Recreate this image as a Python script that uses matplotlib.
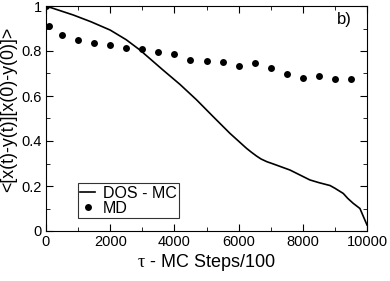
import matplotlib
matplotlib.use("Agg")
import matplotlib.pyplot as plt
from matplotlib.ticker import MultipleLocator

plt.rcParams['font.family'] = ['Liberation Sans', 'DejaVu Sans']
plt.rcParams['mathtext.fontset'] = 'custom'
plt.rcParams['mathtext.rm'] = 'Liberation Serif'
plt.rcParams['mathtext.it'] = 'Liberation Serif'

# DOS - MC curve
mc_x = [0, 850, 1400, 2000, 2500, 2930, 3640, 4170, 4690, 5210, 5730, 6250, 6400, 6560,
        6700, 6880, 7080, 7600, 8220, 8500, 8850, 9000, 9260, 9400, 9570, 9780, 9900, 10000]
mc_y = [1.0, 0.96, 0.93, 0.893, 0.85, 0.804, 0.716, 0.652, 0.583, 0.508, 0.434, 0.367, 0.35, 0.333,
        0.32, 0.308, 0.298, 0.271, 0.227, 0.215, 0.202, 0.19, 0.167, 0.145, 0.123, 0.10, 0.06, 0.027]

# MD points
md_x = [0, 100, 500, 1000, 1500, 2000, 2500, 3000, 3500, 4000, 4500, 5000, 5500,
        6000, 6500, 7000, 7500, 8000, 8500, 9000, 9500]
md_y = [1.0, 0.911, 0.872, 0.850, 0.837, 0.827, 0.813, 0.808, 0.794, 0.785, 0.761,
        0.757, 0.750, 0.733, 0.748, 0.724, 0.696, 0.681, 0.689, 0.674, 0.674]

fig = plt.figure(figsize=(3.9, 2.81), dpi=100)
ax = fig.add_axes([46/390, 1 - 231/281, 321/390, 225/281])

ax.plot(mc_x, mc_y, color='black', lw=1.2, label='DOS - MC')
ax.plot(md_x, md_y, 'o', color='black', ms=5, mec='none', label='MD')

ax.set_xlim(0, 10000)
ax.set_ylim(0, 1)
ax.xaxis.set_major_locator(MultipleLocator(2000))
ax.xaxis.set_minor_locator(MultipleLocator(1000))
ax.yaxis.set_major_locator(MultipleLocator(0.2))
ax.yaxis.set_minor_locator(MultipleLocator(0.1))
ax.set_yticks([0, 0.2, 0.4, 0.6, 0.8, 1.0])
ax.set_yticklabels(['0', '0.2', '0.4', '0.6', '0.8', '1'])
ax.tick_params(which='both', direction='in', top=True, right=True, labelsize=10.5, pad=3)
ax.tick_params(which='major', length=5)
ax.tick_params(which='minor', length=3)

ax.set_xlabel(r'$\mathrm{\tau}$ - MC Steps/100', fontsize=13, labelpad=2)
ax.set_ylabel('<[x(t)-y(t)][x(0)-y(0)]>', fontsize=12.8, labelpad=1)
ax.yaxis.set_label_coords(-0.09, 0.54)

ax.text(9280, 0.938, 'b)', fontsize=12, ha='center', va='center')

leg = ax.legend(loc='lower left', bbox_to_anchor=(0.1, 0.058), fontsize=11.5,
                frameon=True, fancybox=False, edgecolor='black', borderpad=0.15,
                handlelength=0.9, handletextpad=0.5, labelspacing=0.0,
                borderaxespad=0)
leg.get_frame().set_linewidth(0.8)

fig.savefig('out.png', dpi=100)
